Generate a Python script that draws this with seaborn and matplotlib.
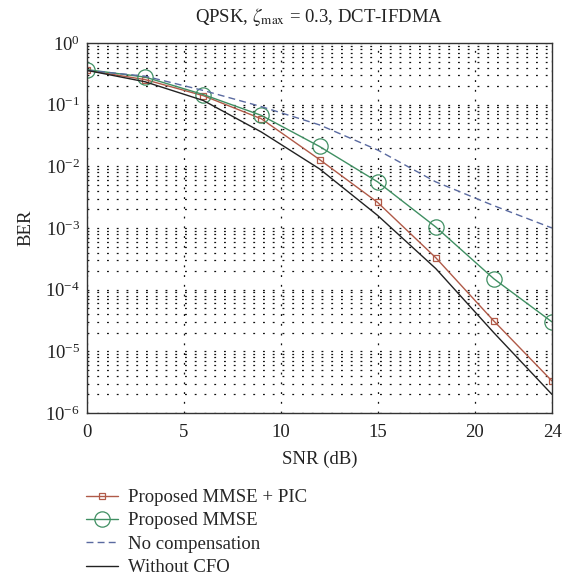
import matplotlib
matplotlib.use("Agg")
import matplotlib.pyplot as plt
import matplotlib.ticker as mticker
import seaborn as sns
import pandas as pd

snr = [0, 3, 6, 9, 12, 15, 18, 21, 24]
ber_mmse_pic = [0.36, 0.255, 0.14, 0.059, 0.0129, 0.0026, 3.3e-4, 3.1e-5, 3.3e-6]
ber_mmse = [0.37, 0.28, 0.146, 0.067, 0.021, 0.0056, 1.04e-3, 1.5e-4, 3.0e-5]
ber_nocomp = [0.36, 0.29, 0.17, 0.093, 0.047, 0.0184, 5.6e-3, 2.3e-3, 1.0e-3]
ber_nocfo = [0.36, 0.235, 0.117, 0.036, 0.0091, 1.6e-3, 2.2e-4, 2.0e-5, 2.0e-6]
labels = ["Proposed MMSE + PIC", "Proposed MMSE", "No compensation", "Without CFO"]
xticks = [0, 5, 10, 15, 20, 24]

sns.set_theme(style="white")
plt.rcParams["font.family"] = ["Liberation Serif", "DejaVu Serif"]
plt.rcParams["mathtext.fontset"] = "stix"

FS = 13.5
fig = plt.figure(figsize=(5.67, 5.78), dpi=100)
ax = fig.add_axes([87 / 567, 1 - 413 / 578, 465 / 567, 370 / 578])

c_red = "#b05a48"
c_green = "#3f8f62"
c_blue = "#5a6aa0"
c_black = "#222222"

df = pd.DataFrame({"snr": snr, "pic": ber_mmse_pic, "mmse": ber_mmse,
                   "nocomp": ber_nocomp, "nocfo": ber_nocfo})

sns.lineplot(data=df, x="snr", y="pic", ax=ax, color=c_red, lw=1.0,
             marker="s", markersize=5, markerfacecolor="none",
             markeredgecolor=c_red, markeredgewidth=0.9, label=labels[0])
sns.lineplot(data=df, x="snr", y="mmse", ax=ax, color=c_green, lw=1.0,
             marker="o", markersize=11, markerfacecolor="none",
             markeredgecolor=c_green, markeredgewidth=0.9, label=labels[1])
sns.lineplot(data=df, x="snr", y="nocomp", ax=ax, color=c_blue, lw=1.0,
             linestyle=(0, (5, 3)), label=labels[2])
sns.lineplot(data=df, x="snr", y="nocfo", ax=ax, color=c_black, lw=1.0,
             label=labels[3])

ax.set_yscale("log")
ax.set_ylim(1e-6, 1)
ax.set_xlim(0, 24)
ax.set_xticks(xticks)
ax.yaxis.set_major_locator(mticker.LogLocator(base=10, numticks=10))
ax.yaxis.set_minor_locator(mticker.LogLocator(base=10, subs=range(2, 10), numticks=100))
ax.yaxis.set_minor_formatter(mticker.NullFormatter())

grid_kw = dict(color="#111111", linewidth=0.9, linestyle=(0, (1.5, 6.3)))
ax.grid(True, which="major", axis="both", **grid_kw)
ax.grid(True, which="minor", axis="y", **grid_kw)

for s in ax.spines.values():
    s.set_color("#333333")
    s.set_linewidth(1.0)

ax.tick_params(axis="both", which="both", length=0, labelsize=FS,
               colors="#222222")
ax.tick_params(axis="x", pad=8)
ax.tick_params(axis="y", pad=5)
ax.set_xlabel("SNR (dB)", fontsize=FS, color="#222222", labelpad=7)
ax.set_ylabel("BER", fontsize=FS, color="#222222", labelpad=8)
ax.set_title(r"QPSK, $\zeta_{\mathrm{max}}$ = 0.3, DCT-IFDMA", fontsize=FS,
             color="#222222", pad=15)

ax.get_legend().remove()
h, l = ax.get_legend_handles_labels()
fig.legend(h, l, loc="upper left", bbox_to_anchor=(86 / 567, 1 - 489 / 578),
           frameon=False, fontsize=FS, handlelength=1.7, handletextpad=0.55,
           labelspacing=0.33, borderpad=0, borderaxespad=0, numpoints=1)

fig.savefig("out.png", dpi=100)
